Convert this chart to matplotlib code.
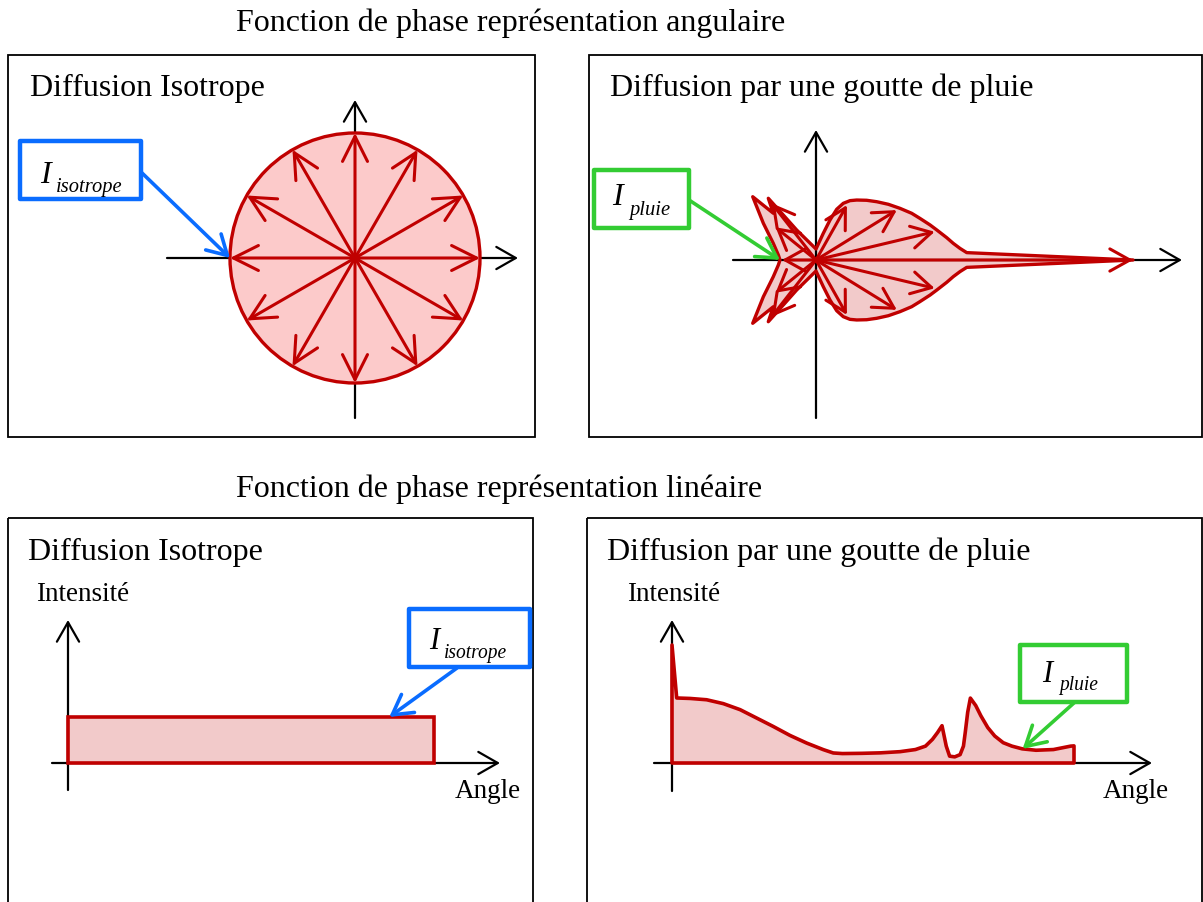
import numpy as np
import matplotlib
matplotlib.use('Agg')
import matplotlib.pyplot as plt
from matplotlib.patches import Rectangle, Circle

plt.rcParams['font.family'] = ['Liberation Serif', 'DejaVu Serif']

W, H = 1203, 902
RED = '#c00000'
PINK_CIRCLE = '#fccaca'
PINK = '#f2caca'
BLUE = '#0a6cff'
GREEN = '#33cc33'

# --- données ---
# diffusion isotrope : même intensité dans toutes les directions
iso_arrow_angles = np.arange(0, 360, 30)
iso_radius = 1.0
iso_level = 0.39

# goutte de pluie, demi-contour supérieur (angle en degrés, intensité relative)
rain_outline_theta = [0, 2.8, 4.6, 6.9, 9.7, 14.0, 17.1, 21.8, 26.0, 31.6, 37.6, 43.8,
                      49.7, 55.8, 60.2, 64.3, 67.8, 70.7, 74.7, 90,
                      122.8, 126.0, 127.7, 132.4, 135.0, 145.1, 158.6, 172.4, 180]
rain_outline_r = [3.17, 1.509, 1.445, 1.383, 1.326, 1.244, 1.193, 1.120, 1.065, 0.986, 0.913, 0.842,
                  0.783, 0.725, 0.684, 0.629, 0.548, 0.424, 0.277, 0.11,
                  0.357, 0.556, 0.780, 0.633, 0.895, 0.642, 0.459, 0.380, 0.36]
rain_arrow_theta = [0, 13.4, 31.7, 60.6, 128, 141, 180]
rain_arrow_r = [3.17, 1.22, 0.95, 0.63, 0.72, 0.52, 0.34]

# représentation linéaire de la goutte de pluie
lin_angle = [0, 2.1, 8.1, 15.5, 23.0, 30.5, 37.9, 45.3, 52.8, 60.3, 67.8, 72.2, 76.3, 85.0,
             93.3, 102.1, 109.0, 113.5, 116.6, 118.9, 120.9, 122.8, 124.3, 126.6, 129.0,
             130.5, 131.3, 132.4, 133.6, 136.0, 138.3, 141.4, 144.5, 148.3, 152.2, 156.8,
             163.0, 170.8, 178.5, 180]
lin_rain = [1.00, 0.551, 0.547, 0.536, 0.503, 0.452, 0.381, 0.310, 0.234, 0.169, 0.113, 0.085,
            0.080, 0.082, 0.086, 0.096, 0.114, 0.143, 0.20, 0.258, 0.316, 0.143, 0.058, 0.052,
            0.071, 0.143, 0.258, 0.43, 0.55, 0.487, 0.40, 0.30, 0.229, 0.172, 0.143, 0.12,
            0.108, 0.114, 0.143, 0.145]

fig = plt.figure(figsize=(W / 100, H / 100), dpi=100)
bg = fig.add_axes([0, 0, 1, 1])
bg.set_xlim(0, W)
bg.set_ylim(H, 0)
bg.axis('off')


def plot_axes(box, origin, sx, sy):
    x0, y0, x1, y1 = box
    ox, oy = origin
    ax = fig.add_axes([x0 / W, 1 - y1 / H, (x1 - x0) / W, (y1 - y0) / H])
    ax.set_xlim((x0 - ox) / sx, (x1 - ox) / sx)
    ax.set_ylim((oy - y1) / sy, (oy - y0) / sy)
    ax.axis('off')
    ax.patch.set_alpha(0)
    return ax


def arrow(ax, start, end, color, lw, ms=20, hl=0.8, hw=0.45, z=3):
    ax.annotate('', xy=end, xytext=start,
                arrowprops=dict(arrowstyle=f'->,head_length={hl},head_width={hw}',
                                color=color, lw=lw, mutation_scale=ms,
                                shrinkA=0, shrinkB=0, capstyle='round', joinstyle='round'),
                zorder=z)


def callout(ax, box, color, sub, i_pos, sub_pos, size, start_px, target):
    x0, y0, x1, y1 = box
    bg.add_patch(Rectangle((x0, y0), x1 - x0, y1 - y0, fill=False, ec=color, lw=3.2,
                           joinstyle='round', zorder=5))
    bg.text(i_pos[0], i_pos[1], 'I', fontsize=size, style='italic', va='baseline', zorder=6)
    bg.text(sub_pos[0], sub_pos[1], sub, fontsize=size * 0.64, style='italic',
            va='baseline', zorder=6)
    ax.annotate('', xy=target, xycoords='data',
                xytext=(start_px[0], H - start_px[1]), textcoords='figure pixels',
                arrowprops=dict(arrowstyle='->,head_length=0.7,head_width=0.4',
                                color=color, lw=2.6, mutation_scale=20,
                                shrinkA=0, shrinkB=0, capstyle='round'),
                zorder=8)


# cadres et titres
panels = [(8, 55, 535, 437), (589, 55, 1202, 437), (8, 518, 533, 904), (587, 518, 1202, 904)]
for x0, y0, x1, y1 in panels:
    bg.add_patch(Rectangle((x0, y0), x1 - x0, y1 - y0, fill=False, ec='black', lw=1.3))

bg.text(236, 31, 'Fonction de phase représentation angulaire', fontsize=23, va='baseline')
bg.text(236, 497, 'Fonction de phase représentation linéaire', fontsize=23, va='baseline')
bg.text(30, 96, 'Diffusion Isotrope', fontsize=23, va='baseline')
bg.text(610, 96, 'Diffusion par une goutte de pluie', fontsize=23, va='baseline')
bg.text(28, 560, 'Diffusion Isotrope', fontsize=23, va='baseline')
bg.text(607, 560, 'Diffusion par une goutte de pluie', fontsize=23, va='baseline')
bg.text(36, 601, 'Intensité', fontsize=19.5, va='baseline')
bg.text(627, 601, 'Intensité', fontsize=19.5, va='baseline')
bg.text(455, 798, 'Angle', fontsize=19.5, va='baseline')
bg.text(1103, 798, 'Angle', fontsize=19.5, va='baseline')

# --- angulaire, isotrope ---
s = 125.0
ax1 = plot_axes(panels[0], (355, 258), s, s)
arrow(ax1, (0, -160 / s), (0, 158 / s), 'black', 1.6, ms=20, hl=0.7, hw=0.4, z=1)
arrow(ax1, (-188 / s, 0), (163 / s, 0), 'black', 1.6, ms=20, hl=0.7, hw=0.4, z=1)
ax1.add_patch(Circle((0, 0), iso_radius, fc=PINK_CIRCLE, ec=RED, lw=2.4, zorder=2))
for a in iso_arrow_angles:
    t = np.deg2rad(a)
    arrow(ax1, (0, 0), (iso_radius * np.cos(t), iso_radius * np.sin(t)), RED, 2.2,
          ms=20, hl=0.9, hw=0.45)

# --- angulaire, pluie ---
s2 = 100.0
ax2 = plot_axes(panels[1], (816, 260), s2, s2)
th_up = np.array(rain_outline_theta)
r_up = np.array(rain_outline_r)
th_full = np.concatenate([th_up, -th_up[-2:0:-1]])
r_full = np.concatenate([r_up, r_up[-2:0:-1]])
xo = r_full * np.cos(np.deg2rad(th_full))
yo = r_full * np.sin(np.deg2rad(th_full))
ax2.fill(xo, yo, fc=PINK, ec='none', zorder=1)
arrow(ax2, (0, -158 / s2), (0, 130 / s2), 'black', 1.6, ms=20, hl=0.7, hw=0.4, z=2)
arrow(ax2, (-83 / s2, 0), (366 / s2, 0), 'black', 1.6, ms=20, hl=0.7, hw=0.4, z=2)
ax2.fill(xo, yo, fc='none', ec=RED, lw=2.4, joinstyle='round', zorder=3)
for a, r in zip(rain_arrow_theta, rain_arrow_r):
    for sgn in ([1] if a in (0, 180) else [1, -1]):
        t = np.deg2rad(sgn * a)
        arrow(ax2, (0, 0), (r * np.cos(t), r * np.sin(t)), RED, 2.2, ms=16, hl=0.9, hw=0.5, z=4)

# --- linéaire, isotrope ---
sy = 118.0
sx_iso = 366 / 180
ax3 = plot_axes(panels[2], (68, 763), sx_iso, sy)
arrow(ax3, (0, -27 / sy), (0, 143 / sy), 'black', 1.6, ms=20, hl=0.7, hw=0.4, z=1)
arrow(ax3, (-16 / sx_iso, 0), (432 / sx_iso, 0), 'black', 1.6, ms=20, hl=0.7, hw=0.4, z=1)
ax3.bar(90, iso_level, width=180, fc=PINK, ec=RED, lw=2.6, zorder=3)

# --- linéaire, pluie ---
sx_rain = 402 / 180
ax4 = plot_axes(panels[3], (672, 763), sx_rain, sy)
arrow(ax4, (0, -28 / sy), (0, 143 / sy), 'black', 1.6, ms=20, hl=0.7, hw=0.4, z=1)
arrow(ax4, (-18 / sx_rain, 0), (480 / sx_rain, 0), 'black', 1.6, ms=20, hl=0.7, hw=0.4, z=1)
la = np.array(lin_angle)
lr = np.array(lin_rain)
ax4.fill(np.concatenate([[0], la, [180]]), np.concatenate([[0], lr, [0]]),
         fc=PINK, ec=RED, lw=2.6, joinstyle='round', zorder=3)

# étiquettes
callout(ax1, (20, 141, 141, 199), BLUE, 'isotrope', (40, 183), (56, 192), 23, (141, 172),
        (-iso_radius, 0))
callout(ax2, (594, 170, 689, 228), GREEN, 'pluie', (612, 205), (629, 215), 23, (689, 200),
        (-rain_outline_r[-1], 0))
callout(ax3, (409, 609, 530, 667), BLUE, 'isotrope', (429, 649), (444, 658), 22, (457, 668),
        (158, iso_level))
callout(ax4, (1020, 645, 1127, 702), GREEN, 'pluie', (1042, 682), (1059, 690), 22, (1075, 702),
        (157, float(np.interp(157, la, lr))))

fig.savefig('out.png', dpi=100)
